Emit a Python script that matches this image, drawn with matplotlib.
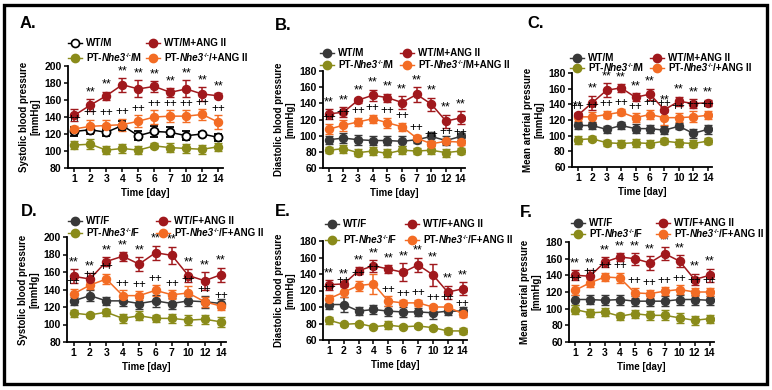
import matplotlib.pyplot as plt
from matplotlib.lines import Line2D
from matplotlib.patches import Rectangle

plt.rcParams['font.family'] = ['Liberation Sans', 'DejaVu Sans']
plt.rcParams['font.weight'] = 'bold'
plt.rcParams['axes.labelweight'] = 'bold'

# x categories
days = ['1', '2', '3', '4', '5', '6', '7', '10', '12', '14']

# A. systolic, male
sbp_m_wt = [123, 125, 122, 130, 118, 123, 122, 118, 120, 116]
sbp_m_wt_sem = [5, 5, 4, 5, 5, 7, 6, 5, 2, 4]
sbp_m_wtang = [142, 154, 165, 178, 173, 176, 169, 173, 167, 165]
sbp_m_wtang_sem = [7, 7, 5, 8, 10, 6, 5, 10, 8, 3]
sbp_m_pt = [107, 108, 101, 103, 101, 106, 104, 103, 102, 105]
sbp_m_pt_sem = [5, 6, 5, 5, 5, 3, 5, 5, 5, 5]
sbp_m_ptang = [126, 129, 130, 131, 135, 140, 141, 141, 143, 134]
sbp_m_ptang_sem = [4, 8, 7, 7, 7, 8, 7, 7, 6, 8]

# B. diastolic, male
dbp_m_wt = [95, 97, 95, 94, 94, 93, 95, 99, 94, 99]
dbp_m_wt_sem = [5, 6, 6, 6, 5, 6, 4, 5, 5, 4]
dbp_m_wtang = [127, 129, 144, 150, 147, 141, 151, 139, 118, 122]
dbp_m_wtang_sem = [6, 6, 3, 7, 5, 8, 9, 8, 8, 8]
dbp_m_pt = [82, 84, 79, 81, 78, 82, 81, 82, 79, 81]
dbp_m_pt_sem = [4, 5, 4, 5, 5, 5, 4, 5, 5, 4]
dbp_m_ptang = [108, 113, 117, 121, 116, 111, 97, 90, 93, 92]
dbp_m_ptang_sem = [6, 7, 5, 5, 6, 5, 4, 3, 3, 3]

# C. mean arterial, male
map_m_wt = [113, 113, 108, 113, 109, 109, 107, 112, 103, 108]
map_m_wt_sem = [5, 5, 4, 4, 6, 5, 5, 4, 6, 6]
map_m_wtang = [126, 142, 158, 161, 149, 153, 133, 144, 141, 142]
map_m_wtang_sem = [3, 9, 9, 5, 5, 7, 3, 6, 6, 4]
map_m_pt = [95, 96, 91, 90, 91, 90, 93, 91, 90, 93]
map_m_pt_sem = [5, 3, 4, 4, 5, 4, 4, 5, 4, 4]
map_m_ptang = [124, 124, 127, 130, 123, 127, 123, 123, 124, 126]
map_m_ptang_sem = [5, 6, 5, 4, 6, 6, 9, 6, 7, 5]

# D. systolic, female
sbp_f_wt = [127, 133, 127, 127, 124, 127, 124, 127, 126, 124]
sbp_f_wt_sem = [5, 6, 5, 6, 6, 7, 6, 6, 7, 5]
sbp_f_wtang = [155, 152, 172, 178, 169, 182, 179, 156, 150, 157]
sbp_f_wtang_sem = [8, 7, 5, 5, 8, 8, 10, 7, 10, 8]
sbp_f_pt = [113, 111, 114, 107, 110, 107, 107, 105, 106, 103]
sbp_f_pt_sem = [4, 2, 4, 5, 5, 4, 5, 6, 5, 6]
sbp_f_ptang = [135, 145, 152, 133, 133, 139, 134, 136, 126, 121]
sbp_f_ptang_sem = [6, 4, 6, 6, 5, 6, 5, 8, 6, 4]

# E. diastolic, female
dbp_f_wt = [103, 103, 95, 97, 95, 94, 94, 93, 95, 95]
dbp_f_wt_sem = [5, 9, 5, 5, 6, 6, 5, 8, 5, 5]
dbp_f_wtang = [127, 128, 144, 150, 146, 142, 151, 139, 118, 122]
dbp_f_wtang_sem = [6, 3, 4, 7, 5, 11, 9, 13, 8, 8]
dbp_f_pt = [84, 79, 80, 76, 78, 76, 77, 75, 71, 71]
dbp_f_pt_sem = [4, 2, 2, 2, 5, 2, 2, 2, 4, 4]
dbp_f_ptang = [110, 118, 126, 128, 107, 105, 105, 100, 100, 92]
dbp_f_ptang_sem = [5, 6, 6, 12, 6, 3, 4, 3, 3, 4]

# F. mean arterial, female
map_f_wt = [111, 111, 110, 111, 109, 109, 109, 111, 111, 110]
map_f_wt_sem = [6, 5, 6, 6, 6, 6, 6, 6, 6, 5]
map_f_wtang = [140, 139, 156, 162, 160, 155, 166, 157, 135, 140]
map_f_wtang_sem = [6, 7, 6, 5, 7, 8, 8, 7, 7, 8]
map_f_pt = [99, 95, 96, 91, 94, 92, 92, 89, 86, 88]
map_f_pt_sem = [5, 5, 5, 4, 5, 5, 6, 6, 5, 5]
map_f_ptang = [122, 131, 138, 137, 119, 118, 121, 123, 120, 120]
map_f_ptang_sem = [6, 5, 5, 6, 6, 5, 5, 5, 5, 5]

# days marked with ** (WT+ANG II); every day gets ++
stars_A = ['2', '3', '4', '5', '6', '7', '10', '12', '14']
stars_all = days

# legend labels: plain string, or suffix after "PT-Nhe3-/-"
labels_A = ['WT/M', 'WT/M+ANG II', ('/M',), ('/+ANG II',)]
labels_B = ['WT/M', 'WT/M+ANG II', ('/M',), ('/M+ANG II',)]
labels_C = ['WT/M', 'WT/M+ANG II', ('/M',), ('/+ANG II',)]
labels_D = ['WT/F', 'WT/F+ANG II', ('/F',), ('/F+ANG II',)]
labels_E = ['WT/F', 'WT/F+ANG II', ('/F',), ('/F+ANG II',)]
labels_F = ['WT/F', 'WT/F+ANG II', ('/F',), ('/F+ANG II',)]

c_wt = '#383838'
c_ang = '#a0181c'
c_pt = '#8a8b1a'
c_ptang = '#f36c24'

W, H = 772, 390
LEG_FS = 7.1
fig = plt.figure(figsize=(W / 100, H / 100), dpi=100)


def px(x, y):
    return x / W, 1 - y / H


def legend_text(ax, x, y, lab):
    if isinstance(lab, str):
        fig.text(x, y, lab, fontsize=LEG_FS, va='center', ha='left')
        return
    t1 = fig.text(x, y, 'PT-', fontsize=LEG_FS, va='center', ha='left')
    t2 = ax.annotate('Nhe3', xy=(1, 0), xycoords=t1, va='bottom', ha='left',
                     fontsize=LEG_FS, style='italic', annotation_clip=False)
    t3 = ax.annotate('-/-', xy=(1, 0.48), xycoords=t2, va='bottom', ha='left',
                     fontsize=LEG_FS * 0.62, annotation_clip=False)
    ax.annotate(lab[0], xy=(1, 0), xycoords=(t3, t2), va='bottom', ha='left',
                fontsize=LEG_FS, annotation_clip=False)


def panel(box, ylim, wt, ang, pt, ptang, stars, ylabel, labels, leg, letter,
          open_wt=False):
    l, r, t, b = box
    ax = fig.add_axes([l / W, 1 - b / H, (r - l) / W, (b - t) / H])
    x = list(range(len(days)))
    wt_face = 'white' if open_wt else c_wt
    wt_col = 'black' if open_wt else c_wt
    order = [(wt, wt_col, wt_face), (pt, c_pt, c_pt),
             (ptang, c_ptang, c_ptang), (ang, c_ang, c_ang)]
    for (m, s), col, face in order:
        ax.errorbar(x, m, yerr=s, color=col, mfc=face, mec=col, marker='o',
                    ms=5.8, mew=1.3 if face == 'white' else 1,
                    lw=1.1, elinewidth=1.1, capsize=2.6, capthick=1.1)
    am, asem = ang
    pm, psem = ptang
    for i, d in enumerate(days):
        if d in stars:
            ax.text(i, am[i] + asem[i] + 1, '**', ha='center', va='bottom',
                    fontsize=9, fontweight='normal')
        ax.text(i, pm[i] + psem[i] + 0.5, '++', ha='center', va='bottom',
                fontsize=8.5, fontweight='normal')
    ax.set_xlim(-0.4, 9.3)
    ax.set_ylim(*ylim)
    ax.set_yticks(range(ylim[0], ylim[1] + 1, 20))
    ax.set_xticks(x)
    ax.set_xticklabels(days)
    for sp in ['top', 'right']:
        ax.spines[sp].set_visible(False)
    for sp in ['left', 'bottom']:
        ax.spines[sp].set_linewidth(1.3)
    ax.tick_params(direction='out', length=3, width=1.1, labelsize=7.5, pad=1.5)
    ax.set_xlabel('Time [day]', fontsize=7, labelpad=3)
    ax.set_ylabel(ylabel, fontsize=7, labelpad=3, linespacing=1.1)

    # legend, two columns
    cx1, cx2, ry1, ry2 = leg
    styles = [(wt_col, wt_face), (c_ang, c_ang), (c_pt, c_pt), (c_ptang, c_ptang)]
    spots = [(cx1, ry1), (cx2, ry1), (cx1, ry2), (cx2, ry2)]
    for (col, face), (mx, my), lab in zip(styles, spots, labels):
        x0, y0 = px(mx - 7, my)
        x1, _ = px(mx + 7, my)
        fig.add_artist(Line2D([x0, x1], [y0, y0], color=col, lw=1,
                              transform=fig.transFigure))
        xm, _ = px(mx, my)
        fig.add_artist(Line2D([xm], [y0], color=col, marker='o', ms=5.8,
                              mfc=face, mec=col, mew=1.2,
                              transform=fig.transFigure))
        xt, yt = px(mx + 11, my)
        legend_text(ax, xt, yt, lab)
    lx, ly = letter
    fig.text(*px(lx, ly), ['A.', 'B.', 'C.', 'D.', 'E.', 'F.'][panel.n],
             fontsize=12, fontweight='bold', va='center', ha='left')
    panel.n += 1
    return ax


panel.n = 0

panel((68, 223, 66, 168), (80, 200),
      (sbp_m_wt, sbp_m_wt_sem), (sbp_m_wtang, sbp_m_wtang_sem),
      (sbp_m_pt, sbp_m_pt_sem), (sbp_m_ptang, sbp_m_ptang_sem),
      stars_A, 'Systolic blood pressure\n[mmHg]', labels_A,
      (75, 153, 43, 58), (20, 24), open_wt=True)
panel((323, 465, 71, 168), (60, 180),
      (dbp_m_wt, dbp_m_wt_sem), (dbp_m_wtang, dbp_m_wtang_sem),
      (dbp_m_pt, dbp_m_pt_sem), (dbp_m_ptang, dbp_m_ptang_sem),
      stars_all, 'Diastolic blood pressure\n[mmHg]', labels_B,
      (327, 407, 53, 65), (275, 25))
panel((572, 712, 73, 167), (60, 180),
      (map_m_wt, map_m_wt_sem), (map_m_wtang, map_m_wtang_sem),
      (map_m_pt, map_m_pt_sem), (map_m_ptang, map_m_ptang_sem),
      stars_all, 'Mean arterial pressure\n[mmHg]', labels_C,
      (577, 657, 58, 68), (527, 24))
panel((67, 226, 237, 342), (80, 200),
      (sbp_f_wt, sbp_f_wt_sem), (sbp_f_wtang, sbp_f_wtang_sem),
      (sbp_f_pt, sbp_f_pt_sem), (sbp_f_ptang, sbp_f_ptang_sem),
      stars_all, 'Systolic blood pressure\n[mmHg]', labels_D,
      (75, 163, 221, 233), (21, 212))
panel((323, 467, 241, 340), (60, 180),
      (dbp_f_wt, dbp_f_wt_sem), (dbp_f_wtang, dbp_f_wtang_sem),
      (dbp_f_pt, dbp_f_pt_sem), (dbp_f_ptang, dbp_f_ptang_sem),
      stars_all, 'Diastolic blood pressure\n[mmHg]', labels_E,
      (332, 412, 224, 240), (275, 212))
panel((569, 714, 242, 342), (60, 180),
      (map_f_wt, map_f_wt_sem), (map_f_wtang, map_f_wtang_sem),
      (map_f_pt, map_f_pt_sem), (map_f_ptang, map_f_ptang_sem),
      stars_all, 'Mean arterial pressure\n[mmHg]', labels_F,
      (578, 663, 223, 234), (520, 213))

# outer frame
x0, y0 = px(4, 384)
x1, y1 = px(767, 5)
fig.add_artist(Rectangle((x0, y0), x1 - x0, y1 - y0, fill=False, lw=2.4,
                         edgecolor='black', transform=fig.transFigure))

fig.savefig('out.png', dpi=100)
